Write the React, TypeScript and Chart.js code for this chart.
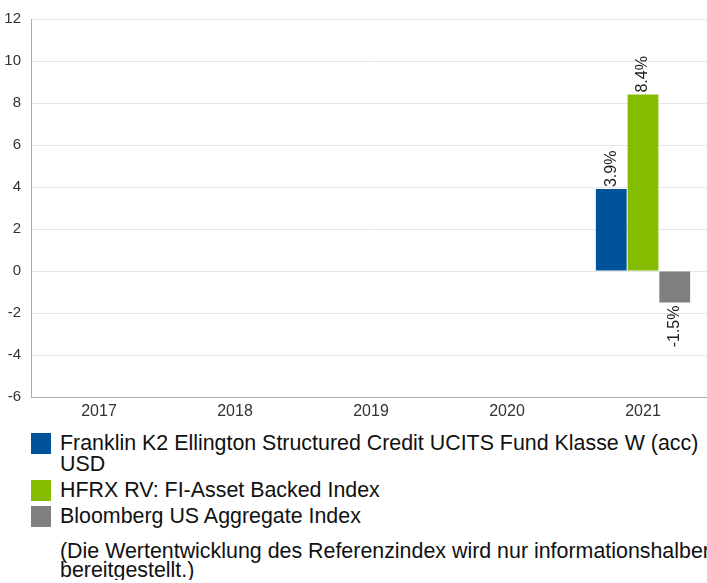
import React, { useEffect, useRef } from "react";
import { Chart, registerables } from "chart.js";

Chart.register(...registerables);

const categories = ["2017", "2018", "2019", "2020", "2021"];
const fundValues = [null, null, null, null, 3.9];
const hfrxValues = [null, null, null, null, 8.4];
const bloombergValues = [null, null, null, null, -1.5];
const seriesNames = [
  "Franklin K2 Ellington Structured Credit UCITS Fund Klasse W (acc) USD",
  "HFRX RV: FI-Asset Backed Index",
  "Bloomberg US Aggregate Index",
];
const seriesColors = ["#00529b", "#84bd00", "#7f7f7f"];
const note = "(Die Wertentwicklung des Referenzindex wird nur informationshalber bereitgestellt.)";

const FONT = "'Liberation Sans', Arial, Helvetica, sans-serif";

const labelPlugin = {
  id: "barLabels",
  afterDatasetsDraw(chart: any) {
    const ctx = chart.ctx;
    ctx.save();
    ctx.font = `16px ${FONT}`;
    ctx.fillStyle = "#222";
    ctx.textBaseline = "middle";
    chart.data.datasets.forEach((ds: any, di: number) => {
      const meta = chart.getDatasetMeta(di);
      meta.data.forEach((el: any, i: number) => {
        const v = ds.data[i];
        if (v === null || v === undefined) return;
        const text = v.toFixed(1) + "%";
        ctx.save();
        if (v >= 0) {
          ctx.translate(el.x, el.y - 2);
          ctx.rotate(-Math.PI / 2);
          ctx.textAlign = "left";
        } else {
          ctx.translate(el.x, el.y + 3);
          ctx.rotate(-Math.PI / 2);
          ctx.textAlign = "right";
        }
        ctx.fillText(text, 0, 0);
        ctx.restore();
      });
    });
    ctx.restore();
  },
};

export default function App() {
  const ref = useRef<HTMLCanvasElement>(null);
  useEffect(() => {
    document.body.style.margin = "0";
    const chart = new Chart(ref.current!, {
      type: "bar",
      data: {
        labels: categories,
        datasets: [fundValues, hfrxValues, bloombergValues].map((d, i) => ({
          label: seriesNames[i],
          data: d,
          backgroundColor: seriesColors[i],
          categoryPercentage: 0.7,
          barPercentage: 0.97,
        })),
      },
      options: {
        animation: false,
        responsive: false,
        maintainAspectRatio: false,
        layout: { padding: { top: 17, left: 0, right: 0, bottom: 0 } },
        plugins: { legend: { display: false }, tooltip: { enabled: false } },
        scales: {
          x: {
            grid: { display: true, color: "transparent", drawTicks: false },
            border: { display: true, color: "#aaaaaa", width: 1 },
            ticks: { color: "#333", font: { family: FONT, size: 16 }, padding: 5 },
            afterFit: (axis: any) => { axis.height = 23; },
          },
          y: {
            min: -6,
            max: 12,
            ticks: { stepSize: 2, color: "#333", font: { family: FONT, size: 15 }, padding: 10 },
            grid: { color: "#e6e6e6", drawTicks: false },
            border: { display: true, color: "#aaaaaa", width: 1 },
            afterFit: (axis: any) => { axis.width = 31; },
          },
        },
      },
      plugins: [labelPlugin],
    });
    return () => chart.destroy();
  }, []);

  return (
    <div style={{ width: 707, overflow: "hidden", fontFamily: FONT }}>
      <canvas ref={ref} width={711} height={420} style={{ display: "block" }} />
      <div style={{ paddingLeft: 31, paddingTop: 13, color: "#111" }}>
        {seriesNames.map((n, i) => (
          <div key={n} style={{ display: "flex", alignItems: "flex-start", marginBottom: 5 }}>
            <div style={{ width: 20, height: 21, background: seriesColors[i], flex: "0 0 20px", marginRight: 9 }} />
            <div style={{ fontSize: 21.4, lineHeight: "21px", width: 647 }}>{n}</div>
          </div>
        ))}
        <div style={{ paddingLeft: 29, marginTop: 15, fontSize: 21.4, lineHeight: "19px", width: 660 }}>{note}</div>
      </div>
    </div>
  );
}
